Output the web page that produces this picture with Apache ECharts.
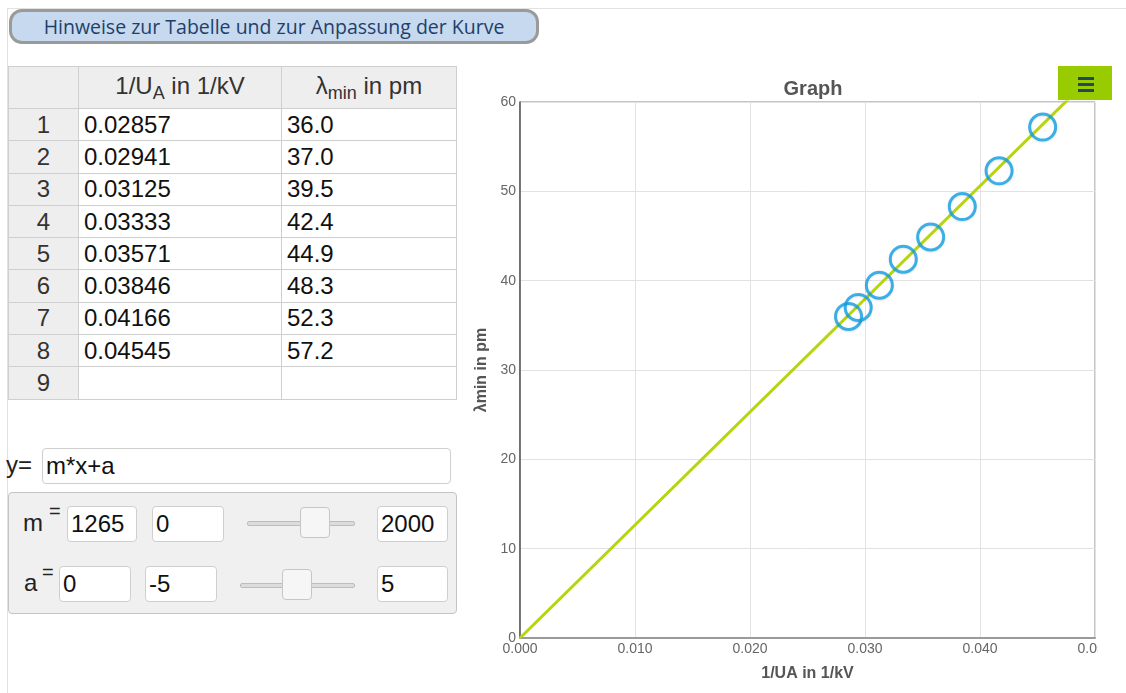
<!DOCTYPE html>
<html>
<head>
<meta charset="utf-8">
<script src="https://cdn.jsdelivr.net/npm/echarts@6/dist/echarts.min.js"></script>
<style>
  html,body{margin:0;padding:0;background:#fff;width:1126px;height:693px;overflow:hidden;font-family:"Liberation Sans",Arial,sans-serif;}
  #frame{position:absolute;left:7px;top:8px;width:1119px;height:700px;border-top:1px solid #e2e2e2;border-left:1px solid #e2e2e2;}
  #hint{position:absolute;left:9px;top:9px;width:524px;height:29px;border:3px solid #9a9a9a;border-radius:13px;background:#c6d9ee;
        font-family:"Open Sans",sans-serif;font-size:19.5px;color:#1f3f6a;text-align:center;line-height:29px;white-space:nowrap;}
  table{position:absolute;left:8px;top:66px;border-collapse:collapse;font-size:24px;color:#111;}
  td,th{border:1px solid #cfcfcf;padding:0 5px;box-sizing:border-box;}
  th{background:#eeeeee;font-weight:normal;color:#333;height:42px;text-align:center;}
  td{height:32.3px;line-height:30px;}
  td.idx{background:#eeeeee;text-align:center;color:#333;}
  sub{font-size:18px;vertical-align:-5px;}
  .lbl{position:absolute;font-size:24px;color:#222;}
  .inp{position:absolute;box-sizing:border-box;border:1px solid #cfcfcf;border-radius:4px;background:#fff;font-size:24px;color:#111;padding-left:3px;line-height:34px;}
  #params{position:absolute;left:8px;top:492px;width:449px;height:122px;box-sizing:border-box;background:#f0f0f0;border:1px solid #c4c4c4;border-radius:4px;}
  .track{position:absolute;height:3px;background:#dcdcdc;border:1px solid #bdbdbd;border-radius:2px;}
  .thumb{position:absolute;width:30px;height:31px;box-sizing:border-box;background:#f6f6f6;border:1px solid #c6c6c6;border-radius:4px;}
  #chart{position:absolute;left:470px;top:60px;width:628px;height:633px;}
  #menu{position:absolute;left:1058px;top:66px;width:54px;height:34px;background:#99cc00;}
  #menu div{position:absolute;left:20px;width:16px;height:2.5px;background:#24475e;}
</style>
</head>
<body>
<div id="frame"></div>
<div id="hint">Hinweise zur Tabelle und zur Anpassung der Kurve</div>
<table id="tbl"></table>

<div class="lbl" style="left:6px;top:451px;">y=</div>
<div class="inp" style="left:42px;top:448px;width:409px;height:36px;">m*x+a</div>

<div id="params"></div>
<div class="lbl" style="left:23px;top:509px;">m</div>
<div class="lbl" style="left:49px;top:500px;font-size:20px;">=</div>
<div class="inp" style="left:67px;top:506px;width:70px;height:36px;" id="mVal"></div>
<div class="inp" style="left:152px;top:506px;width:72px;height:36px;" id="mMin"></div>
<div class="track" style="left:247px;top:521px;width:106px;"></div>
<div class="thumb" style="left:300px;top:507px;"></div>
<div class="inp" style="left:377px;top:506px;width:71px;height:36px;" id="mMax"></div>

<div class="lbl" style="left:24px;top:569px;">a</div>
<div class="lbl" style="left:42px;top:561px;font-size:20px;">=</div>
<div class="inp" style="left:59px;top:566px;width:72px;height:36px;" id="aVal"></div>
<div class="inp" style="left:145px;top:566px;width:72px;height:36px;" id="aMin"></div>
<div class="track" style="left:240px;top:583px;width:113px;"></div>
<div class="thumb" style="left:282px;top:569px;"></div>
<div class="inp" style="left:377px;top:566px;width:71px;height:36px;" id="aMax"></div>

<div id="chart"></div>
<div id="menu"><div style="top:11px"></div><div style="top:17px"></div><div style="top:23px"></div></div>

<script>
// ---- data ----
const rowNumbers = [1, 2, 3, 4, 5, 6, 7, 8, 9];
const invVoltage = [0.02857, 0.02941, 0.03125, 0.03333, 0.03571, 0.03846, 0.04166, 0.04545];
const lambdaMin  = [36.0, 37.0, 39.5, 42.4, 44.9, 48.3, 52.3, 57.2];
const mParam = {value: 1265, min: 0, max: 2000};
const aParam = {value: 0, min: -5, max: 5};
const fitX = [0, 0.05];
const xTicks = ['0.000', '0.010', '0.020', '0.030', '0.040', '0.050'];

// ---- table ----
const tbl = document.getElementById('tbl');
let html = '<tr><th style="width:70px"></th><th style="width:203px">1/U<sub>A</sub> in 1/kV</th><th style="width:175px">&lambda;<sub>min</sub> in pm</th></tr>';
rowNumbers.forEach((n, i) => {
  const x = i < invVoltage.length ? invVoltage[i].toFixed(5) : '';
  const y = i < lambdaMin.length ? lambdaMin[i].toFixed(1) : '';
  html += '<tr><td class="idx">' + n + '</td><td>' + x + '</td><td>' + y + '</td></tr>';
});
tbl.innerHTML = html;
document.getElementById('mVal').textContent = mParam.value;
document.getElementById('mMin').textContent = mParam.min;
document.getElementById('mMax').textContent = mParam.max;
document.getElementById('aVal').textContent = aParam.value;
document.getElementById('aMin').textContent = aParam.min;
document.getElementById('aMax').textContent = aParam.max;

// ---- chart ----
const chart = echarts.init(document.getElementById('chart'), null, {renderer: 'canvas'});
const points = invVoltage.map((x, i) => [x, lambdaMin[i]]);
const fitLine = fitX.map(x => [x, mParam.value * x + aParam.value]);
chart.setOption({
  animation: false,
  title: {text: 'Graph', left: 338, top: 14, textAlign: 'center',
          textStyle: {fontSize: 20, fontWeight: 'bold', color: '#555', fontFamily: 'Liberation Sans'}},
  grid: {left: 50, right: 3, top: 42, bottom: 55, show: true, borderColor: '#8a8a8a', borderWidth: 1,
         outerBoundsMode: 'none', containLabel: false},
  xAxis: {
    type: 'value', min: 0, max: 0.05, interval: 0.01,
    name: '1/UA in 1/kV', nameLocation: 'middle', nameGap: 28,
    nameTextStyle: {fontSize: 16, fontWeight: 'bold', color: '#555', fontFamily: 'Liberation Sans'},
    axisLine: {show: true, lineStyle: {color: '#9a9a9a', width: 2}},
    axisTick: {show: false},
    axisLabel: {margin: 4, fontSize: 14, color: '#666', fontFamily: 'Liberation Sans',
                formatter: v => xTicks[Math.round(v / 0.01)]},
    splitLine: {show: true, lineStyle: {color: '#e2e2e2', width: 1}}
  },
  yAxis: {
    type: 'value', min: 0, max: 60, interval: 10,
    name: 'λmin in pm', nameLocation: 'middle', nameGap: 29,
    nameTextStyle: {fontSize: 16, fontWeight: 'bold', color: '#555', fontFamily: 'Liberation Sans'},
    axisLine: {show: true, lineStyle: {color: '#555', width: 1.5}},
    axisTick: {show: false},
    axisLabel: {margin: 4, fontSize: 14, color: '#666', fontFamily: 'Liberation Sans'},
    splitLine: {show: true, lineStyle: {color: '#e2e2e2', width: 1}}
  },
  series: [
    {type: 'line', data: fitLine, symbol: 'none', clip: true, z: 2,
     lineStyle: {color: '#b7d40e', width: 3}},
    {type: 'scatter', data: points, symbol: 'circle', symbolSize: 26, z: 3,
     itemStyle: {color: 'rgba(0,0,0,0)', borderColor: '#0f9fe3', borderWidth: 3,
                 shadowColor: 'rgba(0,0,0,0.15)', shadowBlur: 2, shadowOffsetY: 1}}
  ]
});
</script>
</body>
</html>
